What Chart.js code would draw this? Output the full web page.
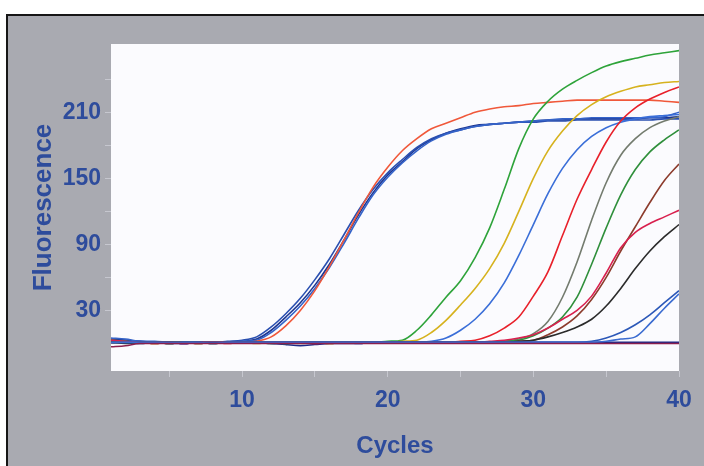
<!DOCTYPE html>
<html>
<head>
<meta charset="utf-8">
<script src="https://cdn.jsdelivr.net/npm/chart.js@4"></script>
<style>
  body { margin: 0; background: #fff; }
  canvas { display: block; }
</style>
</head>
<body>
<canvas id="grafico" width="704" height="466"></canvas>
<script>
const ciclos = [1,2,3,4,5,6,7,8,9,10,11,12,13,14,15,16,17,18,19,20,21,22,23,24,25,26,27,28,29,30,31,32,33,34,35,36,37,38,39,40];

const xTicks = [5,10,15,20,25,30,35,40];
const xLabels = [10,20,30,40];
const yTicks = [30,60,90,120,150,180,210,240];
const yLabels = [30,90,150,210];

const azulA1 = [4,3,2,1,1,0,1,1,1,2,4,12,24,37,53,72,94,117,137,153,165,177,185,191,195,198,199,200,201,202,203,203,204,204,204,204,204,205,205,206];
const azulA2 = [3,2,2,1,0,0,1,1,2,3,6,15,27,41,58,77,99,121,140,155,167,178,186,191,194,197,199,200,201,201,202,202,203,203,203,203,203,203,204,204];
const azulA3 = [5,4,2,2,1,1,0,1,1,2,3,10,21,34,50,69,91,114,135,151,164,175,184,190,194,197,199,200,201,202,203,204,204,205,205,205,205,205,206,210];
const laranja = [2,1,1,0,1,1,0,1,1,1,2,6,16,30,48,70,94,119,142,160,175,186,195,200,205,210,213,215,216,218,219,220,221,221,221,221,221,221,220,219];
const verde1 = [3,2,1,1,0,1,1,0,1,1,1,1,0,1,1,1,1,1,1,2,3,12,26,42,57,78,105,140,177,204,220,231,239,246,252,256,259,262,264,266];
const amarelo = [2,1,1,0,1,1,0,1,1,1,0,1,1,1,1,0,1,1,1,1,2,3,10,21,35,50,68,91,120,150,175,193,207,217,224,229,233,235,237,238];
const azul3 = [1,1,0,1,1,0,1,1,1,1,1,0,1,1,1,1,1,0,1,1,1,1,2,5,12,22,36,55,80,108,136,159,176,188,196,201,204,206,207,208];
const vermelho = [2,1,1,1,0,1,1,1,0,1,1,1,1,1,0,1,1,1,1,1,1,1,1,1,2,3,7,14,24,43,65,98,131,158,183,202,214,222,228,233];
const cinza = [1,1,0,1,1,1,0,1,1,1,1,1,1,0,1,1,1,1,1,1,1,1,1,1,1,1,1,2,4,9,20,42,74,112,146,171,186,196,202,206];
const verde2 = [2,1,1,1,0,1,1,1,1,1,1,0,1,1,1,1,1,1,1,1,1,1,1,1,1,1,1,2,3,7,14,24,42,72,105,135,158,174,185,194];
const marrom = [1,1,1,0,1,1,1,1,1,1,1,1,1,1,1,0,1,1,1,1,1,1,1,1,1,1,1,1,2,3,8,15,25,40,60,84,106,128,148,163];
const carmim = [3,2,1,1,1,0,1,1,1,1,1,1,1,1,1,1,1,1,1,1,1,1,1,1,1,1,2,3,5,8,14,22,30,43,64,87,101,109,115,121];
const preto = [1,0,1,1,1,1,1,0,1,1,1,1,1,1,1,1,1,1,1,1,1,1,1,1,1,1,1,1,2,3,6,10,15,22,34,50,68,84,97,108];
const azulT1 = [1,1,1,1,0,1,1,1,1,1,1,1,1,1,1,1,1,1,1,1,1,1,1,1,1,1,1,1,1,1,1,1,1,2,5,10,17,26,37,48];
const azulT2 = [1,1,1,1,1,1,1,0,1,1,1,1,1,1,1,1,1,1,1,1,1,1,1,1,1,1,1,1,1,1,1,1,1,1,2,4,6,18,32,45];
const planaAzul = [3,2,1,1,1,0,1,1,1,1,1,0,-1,-2,-1,0,0,0,1,1,1,1,1,1,1,1,1,1,1,1,1,1,1,1,1,1,1,1,1,1];
const planaVinho = [-3,-2,0,0,0,0,0,0,0,0,0,0,0,0,0,0,0,0,0,0,0,0,0,0,0,0,0,0,0,0,0,0,0,0,0,0,0,0,0,0];

const series = [
  { dados: planaVinho, cor: '#8a1f4e' },
  { dados: azulT2, cor: '#3a6bd0' },
  { dados: azulT1, cor: '#2c58b8' },
  { dados: preto, cor: '#2b2b2b' },
  { dados: carmim, cor: '#d8204e' },
  { dados: marrom, cor: '#8c3b2c' },
  { dados: verde2, cor: '#2f8f3b' },
  { dados: cinza, cor: '#737b6e' },
  { dados: vermelho, cor: '#e8202a' },
  { dados: azul3, cor: '#3a6ed8' },
  { dados: amarelo, cor: '#d6b21e' },
  { dados: verde1, cor: '#2ea33a' },
  { dados: laranja, cor: '#f0583a' },
  { dados: azulA3, cor: '#3563c8' },
  { dados: azulA2, cor: '#2a4fb0' },
  { dados: azulA1, cor: '#1d3590' },
  { dados: planaAzul, cor: '#1c2a88' }
];

const corTexto = '#2e4c9c';
const fonte = "'Liberation Sans', Arial, sans-serif";

const fundo = {
  id: 'fundo',
  beforeDraw(chart) {
    const { ctx, chartArea: a, width, height } = chart;
    ctx.save();
    ctx.fillStyle = '#ffffff';
    ctx.fillRect(0, 0, width, height);
    ctx.fillStyle = '#a9aab1';
    ctx.fillRect(6, 14, width - 6, height - 14);
    ctx.fillStyle = '#161616';
    ctx.fillRect(6, 14, width - 6, 2);
    ctx.fillRect(6, 14, 2, height - 14);
    ctx.fillStyle = '#fbfbfe';
    ctx.fillRect(a.left, a.top, a.right - a.left, a.bottom - a.top);
    ctx.restore();
  }
};

new Chart(document.getElementById('grafico'), {
  type: 'line',
  data: {
    labels: ciclos,
    datasets: series.map(s => ({
      data: s.dados,
      borderColor: s.cor,
      borderWidth: 1.6,
      pointRadius: 0,
      fill: false,
      cubicInterpolationMode: 'monotone'
    }))
  },
  options: {
    responsive: false,
    animation: false,
    layout: { padding: { top: 44, right: 25, left: 0, bottom: 0 } },
    plugins: {
      legend: { display: false },
      tooltip: { enabled: false }
    },
    scales: {
      x: {
        type: 'linear',
        min: 1,
        max: 40,
        afterBuildTicks: scale => { scale.ticks = xTicks.map(v => ({ value: v })); },
        afterFit: scale => { scale.height = 95; },
        grid: { drawOnChartArea: false, tickLength: 6, color: '#c6c7cf' },
        border: { display: false },
        ticks: {
          padding: 10,
          color: corTexto,
          maxRotation: 0,
          font: { family: fonte, size: 23, weight: 'bold' },
          callback: v => xLabels.includes(v) ? v : ''
        },
        title: {
          display: true,
          text: 'Cycles',
          color: corTexto,
          padding: { top: 0, bottom: 5 },
          font: { family: fonte, size: 24, weight: 'bold' }
        }
      },
      y: {
        min: -25,
        max: 272,
        afterBuildTicks: scale => { scale.ticks = yTicks.map(v => ({ value: v })); },
        afterFit: scale => { scale.width = 111; },
        grid: { drawOnChartArea: false, tickLength: 6, color: '#c6c7cf' },
        border: { display: false },
        ticks: {
          padding: 4,
          color: corTexto,
          font: { family: fonte, size: 23, weight: 'bold' },
          callback: v => yLabels.includes(v) ? v : ''
        },
        title: {
          display: true,
          text: 'Fluorescence',
          color: corTexto,
          padding: { top: 28, bottom: 0 },
          font: { family: fonte, size: 26, weight: 'bold' }
        }
      }
    }
  },
  plugins: [fundo]
});
</script>
</body>
</html>
